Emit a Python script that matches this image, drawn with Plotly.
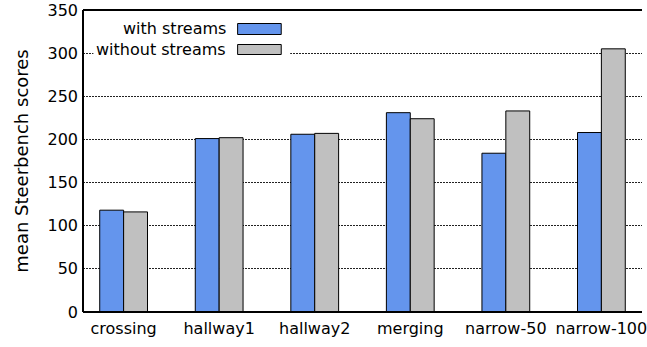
import plotly.graph_objects as go

categories = ["crossing", "hallway1", "hallway2", "merging", "narrow-50", "narrow-100"]
with_streams = [118, 201, 206, 231, 184, 208]
without_streams = [116, 202, 207, 224, 233, 305]
series_names = ["with streams", "without streams"]
series_colors = ["#6495ED", "#C0C0C0"]
y_ticks = [0, 50, 100, 150, 200, 250, 300, 350]

FONT = "DejaVu Sans"
AXIS = "black"

fig = go.Figure()
for name, vals, col in zip(series_names, [with_streams, without_streams], series_colors):
    fig.add_trace(go.Bar(
        x=categories, y=vals, name=name,
        marker=dict(color=col, line=dict(color="black", width=1)),
        showlegend=False,
    ))

fig.update_layout(
    width=647, height=347,
    margin=dict(l=83, r=0, t=10, b=35),
    paper_bgcolor="white", plot_bgcolor="white",
    barmode="group", bargap=0.5, bargroupgap=0,
    font=dict(family=FONT, size=16, color="black"),
)
fig.update_xaxes(
    range=[-0.425, 5.425], showline=False,
    ticks="", showgrid=False,
    ticklabelstandoff=5,
    tickfont=dict(family=FONT, size=16, color="black"),
)
fig.update_yaxes(
    range=[0, 350], tickvals=y_ticks, showline=False,
    ticks="", showgrid=True, gridcolor="#222222", griddash="2px,1px", gridwidth=1,
    zeroline=False,
    ticklabelstandoff=4,
    tickfont=dict(family=FONT, size=16, color="black"),
    title=dict(text="mean Steerbench scores", font=dict(family=FONT, size=18, color="black"), standoff=14),
)

# frame lines: left, bottom, top (no right border, as in the reference)
for (ax0, ay0, ax1, ay1) in [(0, 0, 0, 1), (0, 0, 1, 0), (0, 1, 1, 1)]:
    fig.add_shape(type="line", xref="paper", yref="paper",
                  x0=ax0, y0=ay0, x1=ax1, y1=ay1,
                  line=dict(color=AXIS, width=2), layer="above")

x0, x1 = 83, 647
y0, y1 = 10, 312
def px(x):
    return (x - x0) / (x1 - x0)
def py(y):
    return (y1 - y) / (y1 - y0)

# white backing behind the legend
fig.add_shape(type="rect", xref="paper", yref="paper",
              x0=px(93.5), x1=px(292), y0=py(62), y1=py(15),
              fillcolor="white", line=dict(width=0), layer="above")
rows = [(29, 23.5, 34.5), (49.5, 44.5, 54.5)]
for (cy, by0, by1), name, col in zip(rows, series_names, series_colors):
    fig.add_annotation(xref="paper", yref="paper", x=px(229), y=py(cy),
                       text=name, showarrow=False, xanchor="right", yanchor="middle",
                       font=dict(family=FONT, size=16, color="black"))
    fig.add_shape(type="rect", xref="paper", yref="paper",
                  x0=px(239), x1=px(283), y0=py(by1), y1=py(by0),
                  fillcolor=col, line=dict(color="black", width=1), layer="above")

fig.write_html("out.html")
